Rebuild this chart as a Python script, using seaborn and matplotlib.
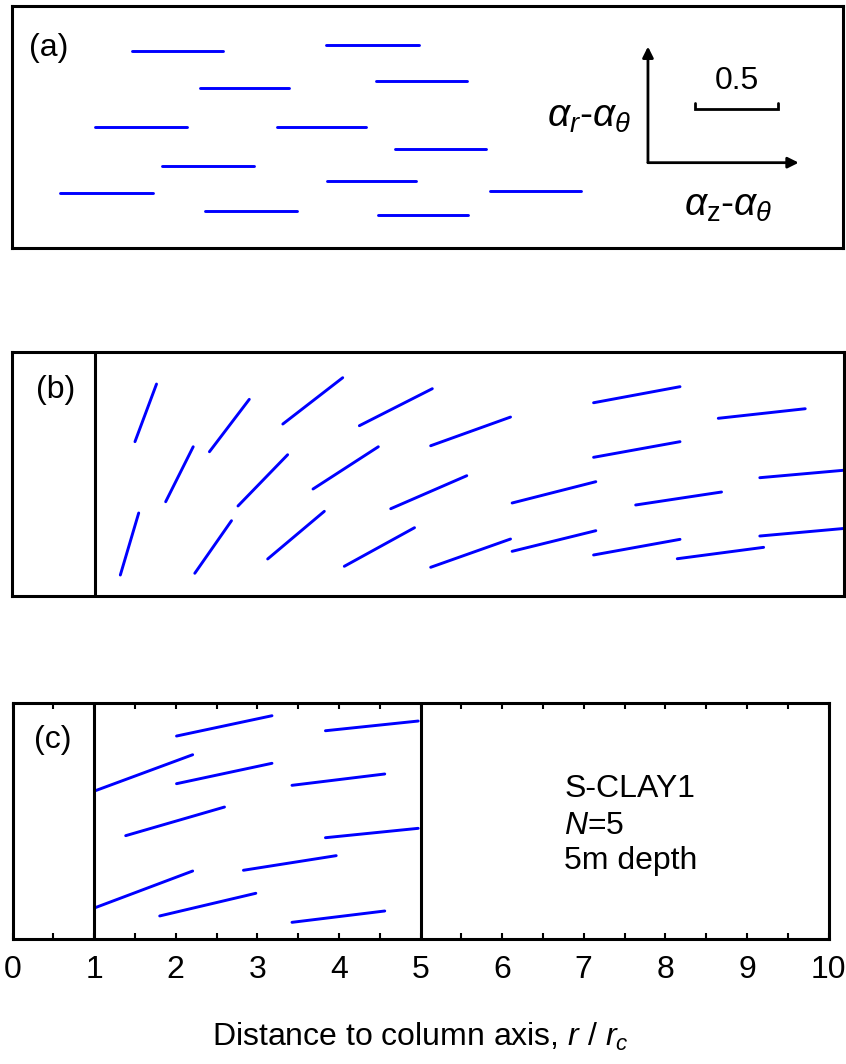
import numpy as np
import pandas as pd
import matplotlib
matplotlib.use("Agg")
import matplotlib.pyplot as plt
import seaborn as sns

# ---------------- data (segment end points, x in r/rc, y = depth coordinate) -------------
# panel (a): horizontal segments (isotropic reference)
a_x1 = [1.444, 3.779, 2.262, 4.380, 0.999, 3.189, 4.609, 1.805, 3.791, 0.578, 5.752, 2.323, 4.404]
a_x2 = [2.539, 4.898, 3.333, 5.475, 2.106, 4.260, 5.704, 2.912, 4.862, 1.697, 6.847, 3.430, 5.487]
a_y = [2.371, 2.443, 1.925, 2.010, 1.456, 1.456, 1.191, 0.987, 0.806, 0.662, 0.686, 0.445, 0.397]

# panel (b)
b_x1 = [1.478, 2.373, 3.255, 4.175, 5.032, 6.990, 8.489, 1.847, 2.716, 3.618, 4.552, 6.011,
        6.990, 8.988, 7.496, 1.302, 2.197, 3.073, 3.994, 5.032, 6.011, 6.990, 7.996, 8.988]
b_y1 = [1.855, 1.734, 2.067, 2.047, 1.806, 2.323, 2.136, 1.133, 1.082, 1.286, 1.049, 1.118,
        1.667, 1.422, 1.094, 0.252, 0.273, 0.445, 0.357, 0.345, 0.537, 0.493, 0.448, 0.721]
b_x2 = [1.737, 2.852, 3.975, 5.052, 5.992, 8.029, 9.534, 2.178, 3.313, 4.403, 5.466, 7.017,
        8.029, 10.026, 8.528, 1.523, 2.638, 3.754, 4.838, 5.992, 7.017, 8.029, 9.034, 10.024]
b_y2 = [2.548, 2.364, 2.624, 2.492, 2.151, 2.516, 2.251, 1.794, 1.698, 1.794, 1.446, 1.374,
        1.855, 1.514, 1.250, 0.998, 0.905, 1.018, 0.821, 0.685, 0.785, 0.681, 0.585, 0.814]

# panel (c)
c_x1 = [2.010, 3.835, 1.004, 2.010, 3.425, 1.387, 3.835, 1.004, 2.830, 1.804, 3.425]
c_y1 = [2.491, 2.556, 1.817, 1.907, 1.887, 1.270, 1.245, 0.384, 0.846, 0.286, 0.208]
c_x2 = [3.180, 4.972, 2.208, 3.180, 4.562, 2.598, 4.972, 2.208, 3.967, 2.982, 4.562]
c_y2 = [2.740, 2.675, 2.262, 2.157, 2.026, 1.621, 1.360, 0.837, 1.025, 0.564, 0.347]

x_ticks = [0, 1, 2, 3, 4, 5, 6, 7, 8, 9, 10]
x_tick_labels = ["0", "1", "2", "3", "4", "5", "6", "7", "8", "9", "10"]
info_lines = ["S-CLAY1", "$N$=5", "5m depth"]
scale_value = 0.5
vec_scale = 2.0  # r/rc units per unit of alpha difference

# ---------------- style ----------------
sns.set_theme(style="white")
plt.rcParams["font.family"] = ["Liberation Sans", "DejaVu Sans"]
plt.rcParams["mathtext.fontset"] = "custom"
plt.rcParams["mathtext.rm"] = "Liberation Sans"
plt.rcParams["mathtext.it"] = "Liberation Sans:italic"
plt.rcParams["mathtext.bf"] = "Liberation Sans:bold"
plt.rcParams["text.color"] = "black"
plt.rcParams["axes.labelcolor"] = "black"
plt.rcParams["xtick.color"] = "black"
plt.rcParams["ytick.color"] = "black"

BLUE = "#0000FF"
FS = 23
SPW = 2.2

fig = plt.figure(figsize=(8.46, 10.64), dpi=100)
W, H = 846.0, 1064.0


def seg_frame(x1, y1, x2, y2):
    rows = []
    for i, (p, q, r, s) in enumerate(zip(x1, y1, x2, y2)):
        rows.append({"seg": i, "x": p, "y": q})
        rows.append({"seg": i, "x": r, "y": s})
    return pd.DataFrame(rows)


def style_axes(ax):
    ax.set_facecolor("white")
    for sp in ax.spines.values():
        sp.set_visible(True)
        sp.set_color("black")
        sp.set_linewidth(SPW)
    ax.set_xlabel("")
    ax.set_ylabel("")
    ax.set_yticks([])


# ---------------- panel (a) ----------------
ax_a = fig.add_axes([12 / W, (1064 - 248) / H, 831 / W, 242 / H])
df_a = seg_frame(a_x1, a_y, a_x2, a_y)
sns.lineplot(data=df_a, x="x", y="y", units="seg", estimator=None, sort=False,
             color=BLUE, lw=2.1, ax=ax_a, legend=False)
ax_a.set_xlim(0, 10)
ax_a.set_ylim(0, 2.91)
style_axes(ax_a)
ax_a.set_xticks([])
ax_a.text(0.445, 2.407, "(a)", fontsize=FS, ha="center", va="center")

ox, oy = 7.653, 1.026
arrow_kw = dict(arrowstyle="-|>", color="black", lw=2.0, mutation_scale=16,
                shrinkA=0, shrinkB=0)
ax_a.annotate("", xy=(ox, 2.422), xytext=(ox, oy), arrowprops=arrow_kw)
ax_a.annotate("", xy=(9.467, oy), xytext=(ox, oy), arrowprops=arrow_kw)
bx0 = 8.219
bx1 = bx0 + scale_value * vec_scale
ax_a.plot([bx0, bx0, bx1, bx1], [1.748, 1.673, 1.673, 1.748], color="black", lw=2.0,
          solid_joinstyle="miter")
ax_a.text((bx0 + bx1) / 2, 2.01, f"{scale_value}", fontsize=FS, ha="center", va="center")
ax_a.text(7.45, 1.58, r"$\alpha_r$-$\alpha_\theta$", fontsize=28, ha="right", va="center")
ax_a.text(8.62, 0.50, r"$\alpha_\mathrm{z}$-$\alpha_\theta$", fontsize=28, ha="center",
          va="center")

# ---------------- panel (b) ----------------
ax_b = fig.add_axes([12 / W, (1064 - 596) / H, 832 / W, 244 / H])
df_b = seg_frame(b_x1, b_y1, b_x2, b_y2)
sns.lineplot(data=df_b, x="x", y="y", units="seg", estimator=None, sort=False,
             color=BLUE, lw=2.1, ax=ax_b, legend=False)
ax_b.set_xlim(0, 10)
ax_b.set_ylim(0, 2.933)
style_axes(ax_b)
ax_b.set_xticks([])
ax_b.axvline(1, color="black", lw=SPW)
ax_b.text(0.529, 2.476, "(b)", fontsize=FS, ha="center", va="center")

# ---------------- panel (c) ----------------
ax_c = fig.add_axes([12.5 / W, (1064 - 939.3) / H, 816 / W, 236.3 / H])
df_c = seg_frame(c_x1, c_y1, c_x2, c_y2)
sns.lineplot(data=df_c, x="x", y="y", units="seg", estimator=None, sort=False,
             color=BLUE, lw=2.1, ax=ax_c, legend=False)
ax_c.set_xlim(0, 10)
ax_c.set_ylim(0, 2.896)
style_axes(ax_c)
ax_c.axvline(1, color="black", lw=SPW)
ax_c.axvline(5, color="black", lw=SPW)
ax_c.set_xticks(x_ticks)
ax_c.set_xticklabels(x_tick_labels)
ax_c.set_xticks(np.arange(0.5, 10, 1.0), minor=True)
ax_c.tick_params(axis="x", which="both", direction="in", length=4, width=1.5,
                 bottom=True, top=True, colors="black")
ax_c.tick_params(axis="x", which="major", labelsize=FS, pad=11)
ax_c.text(0.496, 2.442, "(c)", fontsize=FS, ha="center", va="center")
for txt, yy in zip(info_lines, [1.842, 1.389, 0.96]):
    ax_c.text(6.76, yy, txt, fontsize=FS, ha="left", va="center")
ax_c.set_xlabel("Distance to column axis, $r$ / $r_c$", fontsize=FS, labelpad=26,
                color="black")

fig.savefig("out.png", dpi=100)
